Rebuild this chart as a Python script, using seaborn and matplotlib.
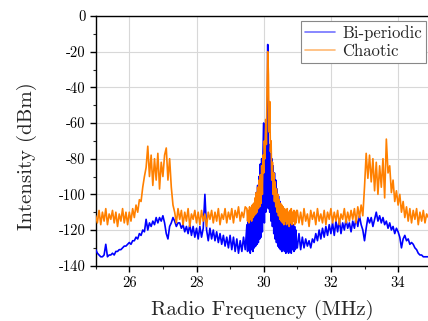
import numpy as np
import pandas as pd
import matplotlib
matplotlib.use("Agg")
import matplotlib.pyplot as plt
import seaborn as sns
from matplotlib.ticker import MultipleLocator

# Frequency sampling (MHz): coarse outer segments, finer around the carrier
seg_low = (25.00, 0.05, 90)    # 25.00 .. 29.45
seg_mid = (29.50, 0.02, 75)    # 29.50 .. 30.98
seg_high = (31.00, 0.05, 79)   # 31.00 .. 34.90
freq_mhz = np.round(np.concatenate(
    [s + d * np.arange(n) for (s, d, n) in (seg_low, seg_mid, seg_high)]), 3)

chaotic_low = [
    -112, -116, -109, -117, -110, -115, -108, -117, -111, -114,   # 25.00
    -109, -116, -110, -118, -111, -115, -108, -116, -110, -117,   # 25.50
    -110, -115, -108, -113, -106, -110, -103, -104, -96, -90,     # 26.00
    -85, -73, -90, -78, -95, -80, -92, -77, -97, -82,             # 26.50
    -90, -78, -74, -92, -80, -96, -106, -110, -116, -108,         # 27.00
    -114, -109, -117, -110, -115, -108, -118, -111, -114, -109,   # 27.50
    -116, -110, -117, -109, -115, -111, -118, -110, -114, -109,   # 28.00
    -116, -110, -115, -108, -117, -111, -114, -108, -116, -110,   # 28.50
    -114, -108, -116, -109, -113, -107, -115, -110, -113, -107,   # 29.00
]
chaotic_mid = [
    -108, -115, -109, -116, -107, -114, -108, -115, -106, -113,   # 29.50
    -105, -112, -102, -111, -99, -110, -96, -108, -92, -107,      # 29.70
    -89, -105, -84, -100, -78, -88, -70, -80, -58, -72,           # 29.90
    -40, -20, -33, -65, -48, -76, -70, -92, -82, -100,            # 30.10
    -88, -104, -93, -107, -97, -110, -100, -112, -103, -114,      # 30.30
    -105, -115, -106, -116, -107, -117, -108, -115, -109, -117,   # 30.50
    -108, -116, -110, -118, -109, -116, -108, -117, -110, -115,   # 30.70
    -109, -117, -110, -116, -109,                                 # 30.90
]
chaotic_high = [
    -109, -116, -110, -117, -108, -115, -111, -118, -109, -114,   # 31.00
    -110, -117, -108, -115, -111, -116, -109, -117, -110, -114,   # 31.50
    -108, -116, -110, -115, -109, -117, -111, -114, -108, -116,   # 32.00
    -110, -115, -109, -114, -108, -116, -107, -113, -106, -112,   # 32.50
    -96, -77, -91, -78, -93, -80, -98, -82, -100, -84,            # 33.00
    -96, -80, -102, -69, -88, -84, -99, -92, -104, -98,           # 33.50
    -106, -100, -110, -104, -113, -107, -115, -108, -116, -109,   # 34.00
    -114, -108, -117, -110, -115, -109, -116, -111, -113,         # 34.50
]

biperiodic_low = [
    -131, -133, -134, -135, -135, -134, -128, -135, -134, -134,   # 25.00
    -133, -134, -132, -132, -131, -131, -130, -129, -129, -128,   # 25.50
    -127, -128, -126, -126, -124, -125, -122, -123, -120, -121,   # 26.00
    -114, -120, -116, -118, -115, -117, -113, -116, -113, -115,   # 26.50
    -112, -116, -122, -125, -118, -116, -113, -115, -118, -116,   # 27.00
    -116, -119, -117, -121, -118, -122, -117, -123, -118, -124,   # 27.50
    -119, -125, -118, -124, -119, -100, -120, -126, -119, -125,   # 28.00
    -120, -126, -121, -127, -122, -128, -123, -129, -124, -130,   # 28.50
    -123, -131, -124, -132, -125, -133, -126, -132, -124, -131,   # 29.00
]
biperiodic_mid = [
    -117, -132, -115, -131, -116, -133, -112, -131, -110, -132,   # 29.50
    -106, -130, -104, -129, -99, -128, -95, -127, -90, -125,      # 29.70
    -83, -124, -80, -121, -76, -60, -116, -73, -110, -70,         # 29.90
    -107, -16, -108, -72, -110, -77, -115, -80, -118, -84,        # 30.10
    -122, -88, -125, -92, -127, -97, -129, -101, -130, -104,      # 30.30
    -131, -107, -132, -108, -131, -110, -132, -111, -133, -112,   # 30.50
    -132, -113, -133, -115, -132, -114, -133, -116, -131, -117,   # 30.70
    -132, -118, -131, -120, -130,                                 # 30.90
]
biperiodic_high = [
    -130, -122, -131, -124, -130, -125, -129, -126, -130, -125,   # 31.00
    -127, -122, -126, -120, -125, -119, -124, -118, -123, -117,   # 31.50
    -122, -116, -123, -115, -121, -114, -122, -116, -120, -114,   # 32.00
    -119, -116, -121, -115, -119, -113, -118, -112, -117, -120,   # 32.50
    -126, -119, -113, -116, -113, -118, -114, -110, -115, -112,   # 33.00
    -116, -113, -117, -115, -119, -116, -120, -118, -122, -119,   # 33.50
    -121, -124, -130, -125, -123, -126, -125, -128, -127, -128,   # 34.00
    -130, -131, -133, -134, -134, -135, -135, -135, -135,         # 34.50
]

chaotic_dbm = chaotic_low + chaotic_mid + chaotic_high
biperiodic_dbm = biperiodic_low + biperiodic_mid + biperiodic_high
n_pts = len(freq_mhz)

series_names = ["Bi-periodic", "Chaotic"]
series_colors = ["#0000ff", "#ff8000"]

df = pd.DataFrame({
    "freq": np.concatenate([freq_mhz, freq_mhz]),
    "dbm": np.concatenate([biperiodic_dbm, chaotic_dbm]),
    "series": [series_names[0]] * n_pts + [series_names[1]] * n_pts,
})

sns.set_theme(style="ticks")
plt.rcParams["font.family"] = ["cmr10", "DejaVu Serif"]
plt.rcParams["axes.unicode_minus"] = False
plt.rcParams["axes.formatter.use_mathtext"] = False

fig = plt.figure(figsize=(4.28, 3.21), dpi=100)
ax = fig.add_axes([95.7 / 428, 1 - 265.7 / 321, 1 - 95.7 / 428, (265.7 - 16) / 321])

sns.lineplot(data=df, x="freq", y="dbm", hue="series", hue_order=series_names,
             palette=series_colors, estimator=None, sort=True, linewidth=1.2,
             ax=ax, zorder=3)

ax.set_xlim(25, 25 + (428 - 95.7) / 33.6)
ax.set_ylim(-140, 0)
ax.xaxis.set_major_locator(MultipleLocator(2))
ax.xaxis.set_minor_locator(MultipleLocator(1))
ax.yaxis.set_major_locator(MultipleLocator(20))
ax.yaxis.set_minor_locator(MultipleLocator(10))
ax.tick_params(which="major", direction="out", length=4, width=1, labelsize=10.5, colors="black")
ax.tick_params(which="minor", direction="out", length=2.5, width=0.8)
ax.grid(True, which="major", color="#d8d8d8", linewidth=0.8, zorder=0)
ax.set_axisbelow(True)
for s in ["left", "bottom", "top"]:
    ax.spines[s].set_color("black")
    ax.spines[s].set_linewidth(1.0)
ax.spines["right"].set_visible(False)

ax.set_xlabel("Radio Frequency (MHz)", fontsize=15, labelpad=7)
ax.set_ylabel("Intensity (dBm)", fontsize=15)
ax.yaxis.set_label_coords(-0.177, 0.439)

leg = ax.legend(loc="upper right", bbox_to_anchor=(0.994, 0.98), borderaxespad=0,
                fontsize=12, frameon=True, fancybox=False, framealpha=1,
                edgecolor="#888888", handlelength=1.8, labelspacing=0.15,
                borderpad=0.25, handletextpad=0.4)
leg.get_frame().set_linewidth(0.8)
for lh in leg.get_lines():
    lh.set_alpha(0.55)
    lh.set_linewidth(1.2)

fig.savefig("out.png", dpi=100)
